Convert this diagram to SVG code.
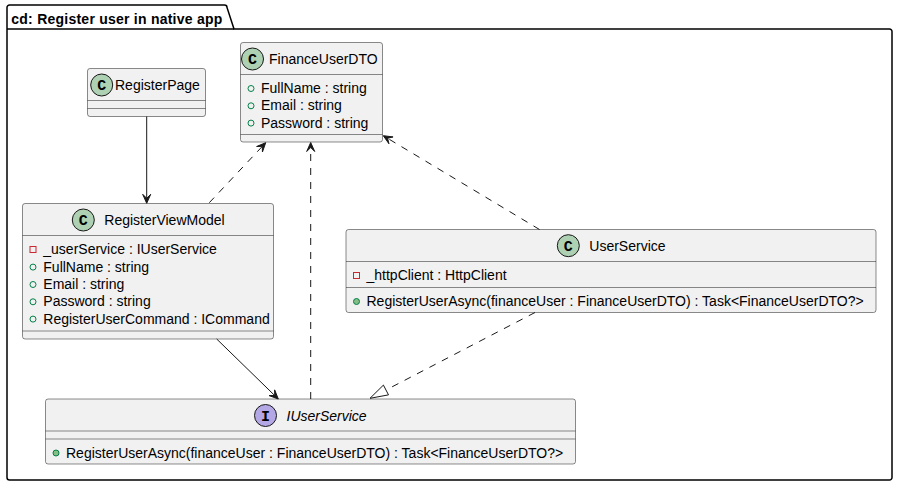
<svg xmlns="http://www.w3.org/2000/svg" width="898" height="487" viewBox="0 0 898 487">
<style>
text{font-family:"Liberation Sans",Arial,sans-serif;font-size:14px;fill:#000000}
.title{font-weight:bold}
.box{fill:#F1F1F1;stroke:#181818;stroke-width:0.5}
.sep{stroke:#181818;stroke-width:0.5}
.cc{fill:#ADD1B2;stroke:#181818;stroke-width:1}
.ci{fill:#B4A7E5;stroke:#181818;stroke-width:1}
.glyph{font-family:"Liberation Mono",monospace;font-weight:bold;font-size:15px;text-anchor:middle}
.priv{fill:none;stroke:#C82930;stroke-width:1}
.pubf{fill:none;stroke:#038048;stroke-width:1}
.pubm{fill:#84BE84;stroke:#038048;stroke-width:1}
.solid{fill:none;stroke:#181818;stroke-width:1}
.dash{fill:none;stroke:#181818;stroke-width:1;stroke-dasharray:7,7}
.head{fill:#181818;stroke:#181818;stroke-width:1}
.tri{fill:#FFFFFF;stroke:#181818;stroke-width:1}
.it{font-style:italic}
</style>
<g id="package">
<path d="M9.5,5 L224.5,5 A2.5,2.5 0 0 1 227,7.5 L234,29 L889.5,29 A2.5,2.5 0 0 1 892,31.5 L892,477.5 A2.5,2.5 0 0 1 889.5,480 L9.5,480 A2.5,2.5 0 0 1 7,477.5 L7,7.5 A2.5,2.5 0 0 1 9.5,5 Z" fill="none" stroke="#000000" stroke-width="1.5"/>
<line x1="7" y1="29" x2="234" y2="29" stroke="#000000" stroke-width="1.5"/>
<text class="title" x="11.3" y="24" textLength="211" lengthAdjust="spacing">cd: Register user in native app</text>
</g>
<g id="RegisterPage">
<rect class="box" x="87.5" y="68.5" width="118" height="48" rx="2.5"/>
<line class="sep" x1="87.5" y1="100.5" x2="205.5" y2="100.5"/>
<line class="sep" x1="87.5" y1="108.5" x2="205.5" y2="108.5"/>
<circle class="cc" cx="101.7" cy="85" r="11"/>
<text class="glyph" x="101.7" y="90.2">C</text>
<text x="115" y="90">RegisterPage</text>
</g>
<g id="FinanceUserDTO">
<rect class="box" x="240.5" y="42.5" width="142" height="99.5" rx="2.5"/>
<line class="sep" x1="240.5" y1="74.5" x2="382.5" y2="74.5"/>
<line class="sep" x1="240.5" y1="134.5" x2="382.5" y2="134.5"/>
<circle class="cc" cx="252.5" cy="59" r="11"/>
<text class="glyph" x="252.5" y="64.2">C</text>
<text x="269" y="64">FinanceUserDTO</text>
<circle class="pubf" cx="251" cy="88.5" r="3"/>
<text x="261" y="93">FullName : string</text>
<circle class="pubf" cx="251" cy="105.8" r="3"/>
<text x="261" y="110.3">Email : string</text>
<circle class="pubf" cx="251" cy="123.1" r="3"/>
<text x="261" y="127.6">Password : string</text>
</g>
<g id="RegisterViewModel">
<rect class="box" x="22.5" y="203.5" width="251" height="135.5" rx="2.5"/>
<line class="sep" x1="22.5" y1="235.5" x2="273.5" y2="235.5"/>
<line class="sep" x1="22.5" y1="331" x2="273.5" y2="331"/>
<circle class="cc" cx="83.3" cy="220" r="11"/>
<text class="glyph" x="83.3" y="225.2">C</text>
<text x="104.3" y="225">RegisterViewModel</text>
<rect class="priv" x="30" y="246.5" width="6" height="6"/>
<text x="43.3" y="254.3">_userService : IUserService</text>
<circle class="pubf" cx="33" cy="267.1" r="3"/>
<text x="43.3" y="271.6">FullName : string</text>
<circle class="pubf" cx="33" cy="284.5" r="3"/>
<text x="43.3" y="289">Email : string</text>
<circle class="pubf" cx="33" cy="301.8" r="3"/>
<text x="43.3" y="306.3">Password : string</text>
<circle class="pubf" cx="33" cy="319.1" r="3"/>
<text x="43.3" y="323.6">RegisterUserCommand : ICommand</text>
</g>
<g id="UserService">
<rect class="box" x="346" y="229.5" width="530" height="83" rx="2.5"/>
<line class="sep" x1="346" y1="261.5" x2="876" y2="261.5"/>
<line class="sep" x1="346" y1="287.5" x2="876" y2="287.5"/>
<circle class="cc" cx="568.3" cy="245.7" r="11"/>
<text class="glyph" x="568.3" y="250.9">C</text>
<text x="589.3" y="250.7">UserService</text>
<rect class="priv" x="353.5" y="272.5" width="6" height="6"/>
<text x="366.5" y="280.3">_httpClient : HttpClient</text>
<circle class="pubm" cx="356.5" cy="301.5" r="3"/>
<text x="366.5" y="306">RegisterUserAsync(financeUser : FinanceUserDTO) : Task&lt;FinanceUserDTO?&gt;</text>
</g>
<g id="IUserService">
<rect class="box" x="45.5" y="399" width="530" height="65" rx="2.5"/>
<line class="sep" x1="45.5" y1="431" x2="575.5" y2="431"/>
<line class="sep" x1="45.5" y1="439" x2="575.5" y2="439"/>
<circle class="ci" cx="265.5" cy="415.5" r="11"/>
<text class="glyph" x="265.5" y="420.7">I</text>
<text class="it" x="286.5" y="420.5">IUserService</text>
<circle class="pubm" cx="56" cy="453" r="3"/>
<text x="66" y="457.6">RegisterUserAsync(financeUser : FinanceUserDTO) : Task&lt;FinanceUserDTO?&gt;</text>
</g>
<g id="connectors">
<line class="solid" x1="146.7" y1="116.5" x2="146.7" y2="198.3"/>
<polygon class="head" points="146.7,203.3 142.7,194.3 146.7,198.3 150.7,194.3"/>
<line class="dash" x1="209.3" y1="202.7" x2="262.3" y2="146.4"/>
<polygon class="head" points="265.7,142.7 262.45,152 262.27,146.35 256.61,146.52"/>
<line class="dash" x1="310.7" y1="399" x2="310.7" y2="147.5"/>
<polygon class="head" points="310.7,142.5 306.7,151.5 310.7,147.5 314.7,151.5"/>
<line class="dash" x1="539.5" y1="229.5" x2="387.6" y2="138.3"/>
<polygon class="head" points="383.3,135.7 393.07,136.93 387.58,138.28 388.93,143.77"/>
<line class="solid" x1="216.7" y1="339" x2="274.7" y2="395.5"/>
<polygon class="head" points="278.3,399 269.06,395.58 274.72,395.51 274.64,389.86"/>
<line class="dash" x1="535" y1="312.5" x2="386" y2="390"/>
<polygon class="tri" points="370,398.3 388.5,394.86 383.42,385.1"/>
</g>
</svg>
